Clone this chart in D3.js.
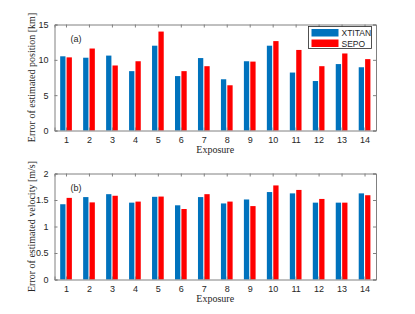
<!DOCTYPE html>
<html>
<head>
<meta charset="utf-8">
<script src="https://cdn.jsdelivr.net/npm/d3@7"></script>
<style>
body { margin: 0; background: #fff; }
svg { display: block; }
.tick text { font-family: "Liberation Sans", Arial, sans-serif; font-size: 9px; fill: #262626; }
.lab { font-family: "Liberation Serif", "Times New Roman", serif; font-size: 10px; fill: #262626; }
</style>
</head>
<body>
<svg id="chart" width="415" height="314"></svg>
<script>
var exposures = [1, 2, 3, 4, 5, 6, 7, 8, 9, 10, 11, 12, 13, 14];
var posXtitan = [10.5, 10.3, 10.6, 8.4, 12.0, 7.7, 10.25, 7.25, 9.8, 12.0, 8.2, 7.0, 9.4, 8.95];
var posSepo = [10.35, 11.6, 9.2, 9.8, 14.0, 8.4, 9.1, 6.4, 9.75, 12.65, 11.4, 9.1, 10.9, 10.1];
var velXtitan = [1.42, 1.555, 1.61, 1.45, 1.56, 1.40, 1.555, 1.435, 1.51, 1.65, 1.625, 1.45, 1.45, 1.625];
var velSepo = [1.54, 1.455, 1.58, 1.47, 1.565, 1.33, 1.61, 1.47, 1.385, 1.775, 1.69, 1.52, 1.45, 1.59];
var posTicks = [0, 5, 10, 15];
var velTicks = [0, 0.5, 1, 1.5, 2];
var seriesNames = ["XTITAN", "SEPO"];
var colors = ["#0072BD", "#FF0000"];

var svg = d3.select("#chart");
var left = 54.5, right = 376;

var x = d3.scaleLinear().domain([0.5, 14.5]).range([left, right]);

function panel(top, bottom, ymax, ticks, a, b, label, ylabel) {
	var y = d3.scaleLinear().domain([0, ymax]).range([bottom, top]);
	var g = svg.append("g");

	var sets = [a, b];
	for (var s = 0; s < 2; s++) {
		g.selectAll(null)
			.data(exposures)
			.enter().append("rect")
			.attr("x", function (d) { return x(d) + (s == 0 ? -5.8 : 0.6); })
			.attr("width", 5.3)
			.attr("y", function (d, i) { return y(sets[s][i]); })
			.attr("height", function (d, i) { return bottom - y(sets[s][i]); })
			.attr("fill", colors[s]);
	}

	// box + ticks on all sides
	var axisColor = "#808080";
	g.append("g").attr("transform", "translate(0," + bottom + ")")
		.call(d3.axisBottom(x).tickValues(exposures).tickSize(-3).tickPadding(6));
	g.append("g").attr("transform", "translate(0," + top + ")")
		.call(d3.axisTop(x).tickValues(exposures).tickSize(-3).tickFormat(""));
	g.append("g").attr("transform", "translate(" + left + ",0)")
		.call(d3.axisLeft(y).tickValues(ticks).tickSize(-3).tickPadding(6).tickFormat(d3.format("")));
	g.append("g").attr("transform", "translate(" + right + ",0)")
		.call(d3.axisRight(y).tickValues(ticks).tickSize(-3).tickFormat(""));
	g.selectAll(".domain").attr("stroke", axisColor);
	g.selectAll(".tick line").attr("stroke", axisColor);

	g.append("text").attr("class", "lab")
		.attr("x", (left + right) / 2).attr("y", bottom + 22)
		.attr("text-anchor", "middle").text("Exposure");
	g.append("text").attr("class", "lab")
		.attr("transform", "translate(35," + (top + bottom) / 2 + ") rotate(-90)")
		.attr("text-anchor", "middle").text(ylabel);
	g.append("text")
		.attr("x", left + 16).attr("y", top + 17)
		.attr("font-family", "Liberation Sans, Arial, sans-serif")
		.attr("font-size", 9).attr("fill", "#262626")
		.text(label);
}

panel(24.5, 130.5, 15, posTicks, posXtitan, posSepo, "(a)", "Error of estimated position [km]");
panel(173.5, 279.5, 2, velTicks, velXtitan, velSepo, "(b)", "Error of estimated velocity [m/s]");

// legend
var lg = svg.append("g").attr("transform", "translate(308.5,26.5)");
lg.append("rect").attr("width", 63).attr("height", 22)
	.attr("fill", "#fff").attr("stroke", "#262626").attr("stroke-width", 0.8);
seriesNames.forEach(function (n, i) {
	lg.append("rect").attr("x", 3).attr("y", 2.5 + i * 10.5)
		.attr("width", 27).attr("height", 7.5).attr("fill", colors[i]);
	lg.append("text").attr("x", 33).attr("y", 9.5 + i * 10.5)
		.attr("font-family", "Liberation Sans, Arial, sans-serif")
		.attr("font-size", 8.5).attr("fill", "#262626").text(n);
});
</script>
</body>
</html>
